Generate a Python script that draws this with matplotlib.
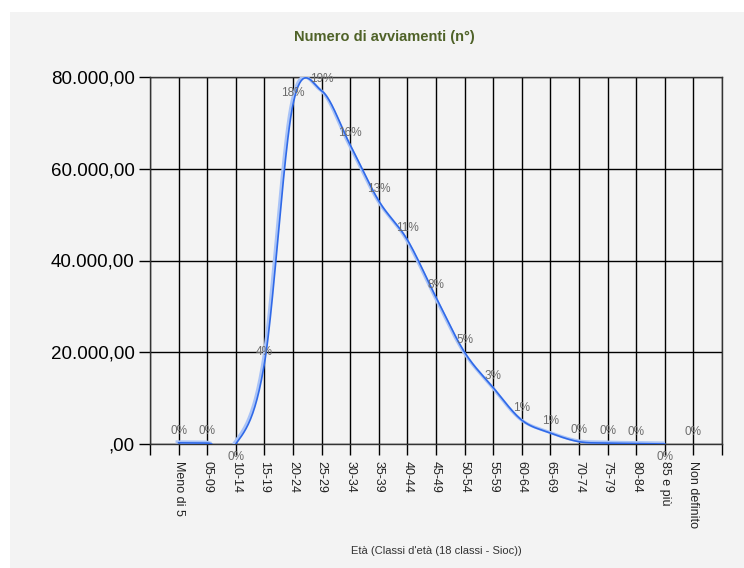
import numpy as np
import matplotlib.pyplot as plt
from matplotlib.patches import Rectangle
from matplotlib.transforms import ScaledTranslation

plt.rcParams['font.family'] = ['Liberation Sans', 'DejaVu Sans']

classi = ['Meno di 5', '05-09', '10-14', '15-19', '20-24', '25-29', '30-34',
          '35-39', '40-44', '45-49', '50-54', '55-59', '60-64', '65-69',
          '70-74', '75-79', '80-84', '85 e più', 'Non definito']
# Non definito has no value on the line, only its label
avviamenti = [250, 200, 0, 17500, 74000, 77000, 65200, 53000, 44500, 32000,
              20000, 12300, 5200, 2400, 500, 200, 100, 0]
percentuali = ['0%', '0%', '0%', '4%', '18%', '19%', '16%', '13%', '11%', '8%',
               '5%', '3%', '1%', '1%', '0%', '0%', '0%', '0%', '0%']
sotto = [2, 17]  # labels drawn under the point


def spline(y, n=40):
    # cardinal (Catmull-Rom) curve through the points
    y = np.asarray(y, float)
    m = np.gradient(y)
    xs, ys = [], []
    t = np.linspace(0, 1, n)
    h00 = 2 * t**3 - 3 * t**2 + 1
    h10 = t**3 - 2 * t**2 + t
    h01 = -2 * t**3 + 3 * t**2
    h11 = t**3 - t**2
    for i in range(len(y) - 1):
        xs.append(i + t)
        ys.append(h00 * y[i] + h10 * m[i] + h01 * y[i + 1] + h11 * m[i + 1])
    return np.concatenate(xs), np.concatenate(ys)


fig = plt.figure(figsize=(7.44, 5.68), dpi=100)
fig.patches.append(Rectangle((10 / 744, 0), 1, 1 - 12 / 568, transform=fig.transFigure,
                             facecolor='#f3f3f3', edgecolor='none', zorder=-1))
ax = fig.add_axes([150 / 744, 1 - 444 / 568, 572 / 744, 367 / 568])
ax.set_facecolor('#f3f3f3')

xs, ys = spline(avviamenti)
ys_clip = np.where(ys < 0, np.nan, ys)
off = ScaledTranslation(-1.5 / 100, 1 / 100, fig.dpi_scale_trans)
ax.plot(xs, ys_clip, color='#a9c3f7', lw=2.2, transform=ax.transData + off, zorder=3)
ax.plot(xs, ys_clip, color='#2f69e8', lw=1.2, zorder=4)

for i, lab in enumerate(percentuali):
    v = avviamenti[i] if i < len(avviamenti) else 0
    dy = -9 if i in sotto else 8.5
    ax.annotate(lab, (i, v), xytext=(0, dy), textcoords='offset points',
                ha='center', va='center', fontsize=8.5, color='#6b6b6b',
                annotation_clip=False, zorder=5)

ax.set_xlim(-1, len(classi))
ax.set_ylim(0, 80000)
ax.set_xticks(np.arange(-1, len(classi) + 1))
ax.set_xticklabels([''] + classi + [''], rotation=270, fontsize=9, color='#222222')
ax.set_yticks([0, 20000, 40000, 60000, 80000])
ax.set_yticklabels([',00' if v == 0 else f'{v:,.2f}'.replace(',', 'X').replace('.', ',').replace('X', '.')
                    for v in [0, 20000, 40000, 60000, 80000]], fontsize=13.5)
ax.tick_params(axis='x', length=8, width=1, pad=4)
ax.tick_params(axis='y', length=8, width=1, pad=3)
ax.grid(True, color='black', lw=1)
ax.set_axisbelow(True)
for s in ax.spines.values():
    s.set_color('#333333')
    s.set_linewidth(1)

fig.text(384 / 744, 1 - 37 / 568, 'Numero di avviamenti (n°)', ha='center', va='center',
         fontsize=10.5, fontweight='bold', color='#4f6228')
fig.text(436 / 744, 1 - 551 / 568, "Età (Classi d'età (18 classi - Sioc))", ha='center',
         va='center', fontsize=8, color='#333333')

fig.savefig('out.png', dpi=100)
